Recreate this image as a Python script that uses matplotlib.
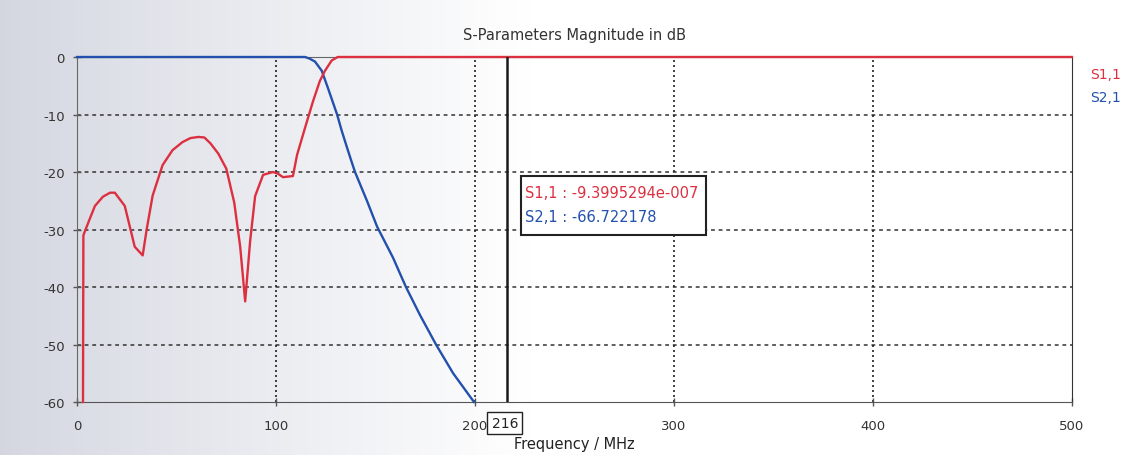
import numpy as np
import matplotlib
matplotlib.use("Agg")
import matplotlib.pyplot as plt
from matplotlib.patches import Rectangle

# ---- data ----
s11_freq = [3, 3.2, 6, 9, 13, 16.6, 19, 24, 29, 33, 35, 38, 43, 48, 53, 57, 61, 64, 67, 71, 75,
            79, 82, 84.5, 87, 89.5, 93.5, 98.5, 101, 103.5, 108.5, 110.6, 114.6, 118.6, 122,
            124.6, 128, 131, 140, 200, 300, 400, 500]
s11_db = [-60, -31, -28.5, -25.9, -24.3, -23.6, -23.6, -25.9, -33, -34.5, -30, -24.1, -18.8,
          -16.2, -14.8, -14.1, -13.9, -14.0, -15, -16.8, -19.4, -25.3, -33, -42.5, -32, -24.2,
          -20.5, -20, -20.3, -20.9, -20.7, -17, -12.3, -7.7, -4.2, -2.4, -0.6, 0, 0, 0, 0, 0, 0]

s21_freq = [0, 50, 100, 114.6, 117, 119.6, 123, 126, 130.7, 133, 135, 137.5, 139.7, 145.7,
            150.8, 158.8, 165.3, 172.4, 180.4, 189, 199.5]
s21_db = [0, 0, 0, 0, -0.3, -0.8, -2.4, -5.3, -10, -12.8, -15.0, -17.7, -20, -25, -29.5,
          -34.9, -40, -44.9, -50, -55, -60]

cursor_freq = 216
marker_s11 = "-9.3995294e-007"
marker_s21 = "-66.722178"
x_ticks = [0, 100, 200, 300, 400, 500]
y_ticks = [0, -10, -20, -30, -40, -50, -60]

RED = "#dc3040"
BLUE = "#2250ac"

plt.rcParams['font.family'] = ['DejaVu Sans']
fig = plt.figure(figsize=(11.31, 4.56), dpi=100)

# scanned-looking background gradient
bg = fig.add_axes([0, 0, 1, 1], zorder=-10)
grad = np.linspace(0, 1, 400)
col_l = np.array([0.83, 0.84, 0.88])
col_r = np.array([1.0, 1.0, 1.0])
t = np.clip(grad / 0.47, 0, 1)[None, :, None] ** 0.9
img = col_l * (1 - t) + col_r * t
img = np.repeat(img, 2, axis=0)
bg.imshow(img, aspect='auto', extent=[0, 1, 0, 1])
bg.set_axis_off()

ax = fig.add_axes([0.0681, 0.1162, 0.8797, 0.7566])
ax.patch.set_alpha(0)
ax.set_xlim(0, 500)
ax.set_ylim(-60, 0)

# grid
for yv in y_ticks[1:-1]:
    ax.axhline(yv, color="#333333", lw=1.1, ls=(0, (2.5, 2.5)), zorder=1)
for xv in x_ticks[1:-1]:
    ax.axvline(xv, color="#222222", lw=1.2, ls=(0, (1.2, 1.8)), zorder=1)

ax.plot(s21_freq, s21_db, color=BLUE, lw=1.7, zorder=3, clip_on=False)
ax.plot(s11_freq, s11_db, color=RED, lw=1.7, zorder=4, clip_on=False)

ax.axvline(cursor_freq, color="#1a1a1a", lw=1.8, zorder=5)

ax.set_xticks(x_ticks)
ax.set_yticks(y_ticks)
ax.set_xticklabels([str(v) for v in x_ticks], fontsize=9.5, color="#333333")
ax.set_yticklabels([str(v) for v in y_ticks], fontsize=9.5, color="#333333")
ax.tick_params(axis='x', direction='inout', length=6, width=1, color="#555555", pad=9)
ax.tick_params(axis='y', direction='inout', length=6, width=1, color="#555555", pad=6)

ax.spines['top'].set_color("#666666")
ax.spines['top'].set_linewidth(0.8)
ax.spines['left'].set_color("#666666")
ax.spines['bottom'].set_color("#555555")
ax.spines['right'].set_color("#333333")

ax.set_title("S-Parameters Magnitude in dB", fontsize=10.5, color="#333333", pad=13)
ax.set_xlabel("Frequency / MHz", fontsize=10.5, color="#222222", labelpad=3)

# cursor value box below axis
ax.text(cursor_freq - 1, -63.6, str(cursor_freq), ha='center', va='center', fontsize=10,
        color="#222222", zorder=6,
        bbox=dict(boxstyle='square,pad=0.3', fc='white', ec='#222222', lw=1))

# marker readout box
ax.add_patch(Rectangle((223, -31.0), 93, 10.3, fc='white', ec='#222222', lw=1.5, zorder=6))
ax.text(225, -23.6, "S1,1 : " + marker_s11, color=RED, fontsize=10.5, va='center', ha='left', zorder=7)
ax.text(225, -27.7, "S2,1 : " + marker_s21, color=BLUE, fontsize=10.5, va='center', ha='left', zorder=7)

# legend labels on right
fig.text(0.9637, 0.8355, "S1,1", color=RED, fontsize=10, ha='left', va='center')
fig.text(0.9637, 0.785, "S2,1", color=BLUE, fontsize=10, ha='left', va='center')

fig.savefig("out.png", dpi=100)
